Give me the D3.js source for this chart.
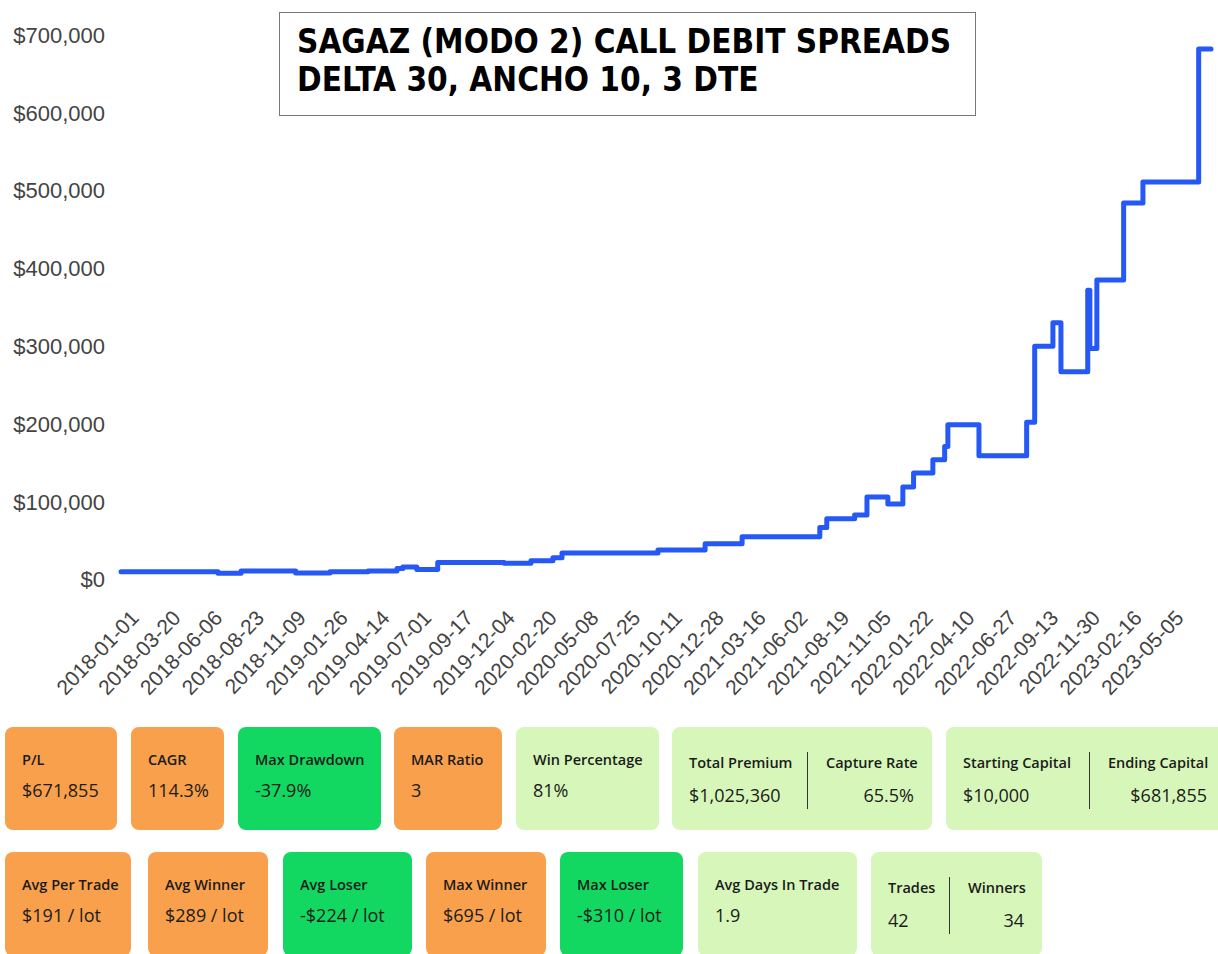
<!DOCTYPE html>
<html>
<head>
<meta charset="utf-8">
<script src="https://cdn.jsdelivr.net/npm/d3@7"></script>
<style>
  body { margin: 0; background: #fff; }
  svg { display: block; }
</style>
</head>
<body>
<svg id="chart" width="1218" height="954"></svg>
<script>
// equity curve, one point per closed trade (step after)
const tradeDates = ["2018-01-01","2018-07-01","2018-08-13","2018-11-23","2019-01-26","2019-04-07","2019-05-31","2019-06-11","2019-07-07","2019-08-15","2019-12-17","2020-02-05","2020-03-17","2020-04-03","2020-09-29","2020-12-26","2021-03-05","2021-07-28","2021-08-10","2021-10-01","2021-10-24","2021-12-02","2021-12-30","2022-01-19","2022-02-24","2022-03-18","2022-03-24","2022-05-21","2022-08-18","2022-09-02","2022-10-06","2022-10-21","2022-12-10","2022-12-14","2022-12-27","2023-02-15","2023-03-23","2023-07-05","2023-07-28"];
const equity = [10000,8000,11000,8500,10000,11000,14000,16000,13000,22000,21000,24000,28000,34000,38000,46000,55000,67000,78000,83000,106000,97000,119000,137000,154000,171000,199000,159000,202000,300000,330000,267000,372000,297000,385000,484000,511000,681855,681855];

const tickDates = ["2018-01-01","2018-03-20","2018-06-06","2018-08-23","2018-11-09","2019-01-26","2019-04-14","2019-07-01","2019-09-17","2019-12-04","2020-02-20","2020-05-08","2020-07-25","2020-10-11","2020-12-28","2021-03-16","2021-06-02","2021-08-19","2021-11-05","2022-01-22","2022-04-10","2022-06-27","2022-09-13","2022-11-30","2023-02-16","2023-05-05"];
const yTicks = [0,100000,200000,300000,400000,500000,600000,700000];

const titleLines = ["SAGAZ (MODO 2) CALL DEBIT SPREADS", "DELTA 30, ANCHO 10, 3 DTE"];

// stat cards
const row1Labels = [["P/L"],["CAGR"],["Max Drawdown"],["MAR Ratio"],["Win Percentage"],["Total Premium","Capture Rate"],["Starting Capital","Ending Capital"]];
const row1Values = [["$671,855"],["114.3%"],["-37.9%"],["3"],["81%"],["$1,025,360","65.5%"],["$10,000","$681,855"]];
const row1Kinds  = ["warn","warn","good","warn","ok","ok","ok"];
const row2Labels = [["Avg Per Trade"],["Avg Winner"],["Avg Loser"],["Max Winner"],["Max Loser"],["Avg Days In Trade"],["Trades","Winners"]];
const row2Values = [["$191 / lot"],["$289 / lot"],["-$224 / lot"],["$695 / lot"],["-$310 / lot"],["1.9"],["42","34"]];
const row2Kinds  = ["warn","warn","good","warn","good","ok","ok"];

// layout (kept apart from the values)
const row1Left  = [5,131,238,394,516,672,946];
const row1Width = [112,93,143,108,143,260,280];
const row1Split = [0,0,0,0,0,135,143];
const row2Left  = [5,148,283,426,560,698,871];
const row2Width = [126,120,129,120,123,159,171];
const row2Split = [0,0,0,0,0,0,78];
const kindFill = { warn: "#f9a04c", good: "#12d862", ok: "#d6f7b9" };

const svg = d3.select("#chart");
const parse = d3.timeParse("%Y-%m-%d");

const x = d3.scaleTime()
  .domain([parse("2018-01-01"), parse("2023-07-28")])
  .range([121, 1211]);
const y = d3.scaleLinear()
  .domain([0, 700000])
  .range([579.5, 35]);

// y axis labels
svg.append("g").selectAll("text")
  .data(yTicks)
  .enter().append("text")
  .attr("x", 105)
  .attr("y", d => y(d))
  .attr("dy", "0.36em")
  .attr("text-anchor", "end")
  .attr("font-family", "'Liberation Sans', Arial, sans-serif")
  .attr("font-size", 22)
  .attr("fill", "#444")
  .text(d => d3.format("$,")(d));

// x axis labels, rotated
svg.append("g").selectAll("text")
  .data(tickDates)
  .enter().append("text")
  .attr("transform", d => `translate(${x(parse(d)) + 19},619) rotate(-46)`)
  .attr("text-anchor", "end")
  .attr("font-family", "'Liberation Sans', Arial, sans-serif")
  .attr("font-size", 21)
  .attr("fill", "#444")
  .text(d => d);

// equity line
const pts = tradeDates.map((d, i) => [parse(d), equity[i]]);
const line = d3.line()
  .x(d => x(d[0]))
  .y(d => y(d[1]))
  .curve(d3.curveStepAfter);

svg.append("path")
  .datum(pts)
  .attr("d", line)
  .attr("fill", "none")
  .attr("stroke", "#2558f5")
  .attr("stroke-width", 5)
  .attr("stroke-linejoin", "round")
  .attr("stroke-linecap", "round");

// title box
svg.append("rect")
  .attr("x", 279.5).attr("y", 12.5)
  .attr("width", 696).attr("height", 103)
  .attr("fill", "#fff")
  .attr("stroke", "#777")
  .attr("stroke-width", 1);

svg.append("g").selectAll("text")
  .data(titleLines)
  .enter().append("text")
  .attr("x", 297)
  .attr("y", (d, i) => 53 + i * 38)
  .attr("font-family", "'DejaVu Sans Condensed', 'DejaVu Sans', sans-serif")
  .attr("font-stretch", "condensed")
  .attr("font-weight", "bold")
  .attr("font-size", 33)
  .attr("fill", "#000")
  .text(d => d);

// stat cards
function drawRow(labels, values, kinds, lefts, widths, splits, top, h) {
  const g = svg.append("g");
  labels.forEach((lab, i) => {
    const x0 = lefts[i], w = widths[i];
    g.append("rect")
      .attr("x", x0).attr("y", top)
      .attr("width", w).attr("height", h)
      .attr("rx", 8).attr("ry", 8)
      .attr("fill", kindFill[kinds[i]]);

    const split = lab.length > 1;
    const labY = top + (split ? 41 : 38);
    const valY = top + (split ? 75 : 70);

    g.append("text")
      .attr("x", x0 + 17).attr("y", labY)
      .attr("font-family", "'Open Sans', 'Noto Sans', sans-serif")
      .attr("font-weight", 600)
      .attr("font-size", 14.5)
      .attr("fill", "#1b1b1b")
      .text(lab[0]);
    g.append("text")
      .attr("x", x0 + 17).attr("y", valY)
      .attr("font-family", "'Open Sans', 'Noto Sans', sans-serif")
      .attr("font-size", 18)
      .attr("fill", "#1b1b1b")
      .text(values[i][0]);

    if (split) {
      const dx = x0 + splits[i];
      g.append("line")
        .attr("x1", dx + 0.5).attr("x2", dx + 0.5)
        .attr("y1", top + 25).attr("y2", top + 82)
        .attr("stroke", "#333").attr("stroke-width", 1);
      g.append("text")
        .attr("x", dx + 19).attr("y", labY)
        .attr("font-family", "'Open Sans', 'Noto Sans', sans-serif")
        .attr("font-weight", 600)
        .attr("font-size", 14.5)
        .attr("fill", "#1b1b1b")
        .text(lab[1]);
      g.append("text")
        .attr("x", Math.min(x0 + w, 1225) - 18).attr("y", valY)
        .attr("text-anchor", "end")
        .attr("font-family", "'Open Sans', 'Noto Sans', sans-serif")
        .attr("font-size", 18)
        .attr("fill", "#1b1b1b")
        .text(values[i][1]);
    }
  });
}

drawRow(row1Labels, row1Values, row1Kinds, row1Left, row1Width, row1Split, 727, 103);
drawRow(row2Labels, row2Values, row2Kinds, row2Left, row2Width, row2Split, 852, 104);
</script>
</body>
</html>
